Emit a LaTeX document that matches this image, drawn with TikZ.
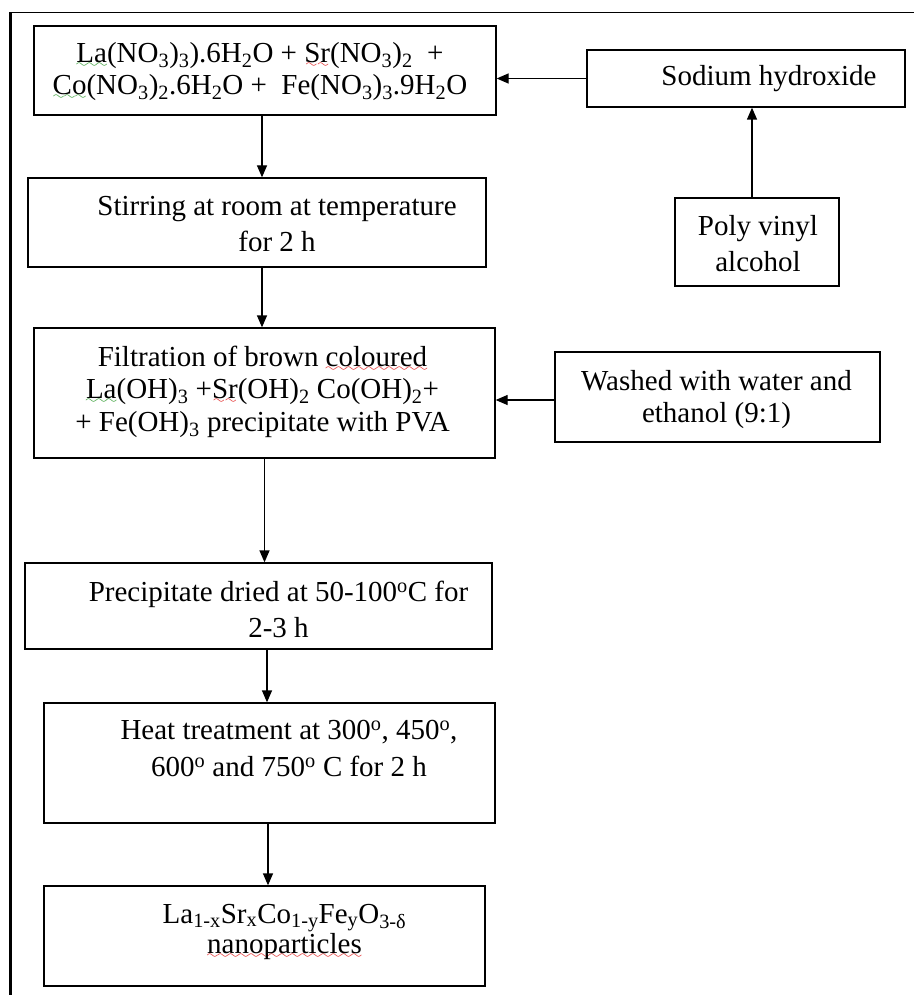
\documentclass[tikz,border=0pt]{standalone}
\usepackage{fontspec}
\setmainfont{Liberation Serif}
\usetikzlibrary{arrows.meta}
\definecolor{sqgreen}{HTML}{2E9A2E}
\definecolor{sqred}{HTML}{E02020}
\font\sqfont=lasy6 scaled 2000
% spell-check squiggles under a word
\newcommand\sqline[2]{\leavevmode\setbox0\hbox{#2}%
  \rlap{\textcolor{#1}{\lower5pt\hbox to \wd0{\xleaders\hbox{\sqfont\char58}\hfill}}}#2}
\newcommand\gsq[1]{\sqline{sqgreen}{#1}}
\newcommand\rsq[1]{\sqline{sqred}{#1}}

\begin{document}
\begin{tikzpicture}[x=1pt,y=-1pt,font=\fontsize{29}{35}\selectfont,
      box/.style={draw,line width=1.3pt,inner sep=0pt},
      txt/.style={align=center,inner sep=0pt},
      arr/.style={line width=1.3pt,-{Triangle[length=12pt,width=10pt]}}]
    \useasboundingbox (0,0) rectangle (914,995);
    % page frame
    \draw[line width=3pt] (10.5,995) -- (10.5,12.7);
    \draw[line width=1.4pt] (9,12.7) -- (914,12.7);
    % boxes
    \node[box,minimum width=462pt,minimum height=89pt](pre) at (265,70.5){};
    \node[box,minimum width=318pt,minimum height=57pt](soda) at (746,78.5){};
    \node[box,minimum width=458pt,minimum height=89pt](stir) at (257,222.5){};
    \node[box,minimum width=164pt,minimum height=88pt](pva) at (757,242){};
    \node[box,minimum width=461pt,minimum height=130pt](filt) at (264.5,393){};
    \node[box,minimum width=325pt,minimum height=90pt](wash) at (717.5,397){};
    \node[box,minimum width=467pt,minimum height=86pt](prec) at (258.5,606){};
    \node[box,minimum width=451pt,minimum height=120pt](heat) at (269.5,763){};
    \node[box,minimum width=441pt,minimum height=100pt](fin) at (264.5,936){};
    % texts
    \node[txt,font=\fontsize{29}{32}\selectfont](preT) at ([xshift=-5pt,yshift=-1pt]pre.center)
      {\gsq{La}(NO\textsubscript{3})\textsubscript{3}).6H\textsubscript{2}O + \rsq{Sr}(NO\textsubscript{3})\textsubscript{2}\ \ +\\
       \gsq{Co}(NO\textsubscript{3})\textsubscript{2}.6H\textsubscript{2}O +\ \ Fe(NO\textsubscript{3})\textsubscript{3}.9H\textsubscript{2}O};
    \node[txt](sodaT) at ([xshift=23pt]soda.center){Sodium hydroxide};
    \node[txt,font=\fontsize{29}{36}\selectfont](stirT) at ([xshift=20pt,yshift=-1.3pt]stir.center)
      {Stirring at room at temperature\\ for 2 h};
    \node[txt,font=\fontsize{29}{36}\selectfont](pvaT) at ([xshift=1pt,yshift=-1.5pt]pva.center)
      {Poly vinyl\\ alcohol};
    \node[txt,font=\fontsize{29}{32.7}\selectfont](filtT) at ([xshift=-2pt,yshift=1.4pt]filt.center)
      {Filtration of brown \rsq{coloured}\\
       \gsq{La}(OH)\textsubscript{3} +\rsq{Sr}(OH)\textsubscript{2} Co(OH)\textsubscript{2}+\\
       + Fe(OH)\textsubscript{3} precipitate with PVA};
    \node[txt,font=\fontsize{29}{32.3}\selectfont](washT) at ([xshift=-1pt,yshift=-2.5pt]wash.center)
      {Washed with water and\\ ethanol (9:1)};
    \node[txt,font=\fontsize{29}{36}\selectfont](precT) at ([xshift=20pt,yshift=-3pt]prec.center)
      {Precipitate dried at 50-100\textsuperscript{o}C for\\ 2-3 h};
    \node[txt,font=\fontsize{29}{37}\selectfont](heatT) at ([xshift=19.5pt,yshift=14.4pt]heat.center)
      {Heat treatment at 300\textsuperscript{o}, 450\textsuperscript{o},\\
       600\textsuperscript{o} and 750\textsuperscript{o} C for 2 h};
    \node[txt,font=\fontsize{29}{30}\selectfont](finT) at ([xshift=20pt,yshift=4.5pt]fin.center)
      {La\textsubscript{1-x}Sr\textsubscript{x}Co\textsubscript{1-y}Fe\textsubscript{y}O\textsubscript{3-δ}\\
       \rsq{nanoparticles}};
    % arrows
    \foreach \s/\t/\dx in {pre/stir/-3,stir/filt/5,filt/prec/0,prec/heat/8.5,heat/fin/-1.5}{
      \coordinate (c) at ([xshift=\dx pt]\s.south);
      \draw[arr] (c) -- (c |- \t.north);}
    \draw[arr] (soda.west) -- (soda.west -| pre.east);
    \coordinate (pvaTop) at ([xshift=-5pt]pva.north);
    \draw[arr] (pvaTop) -- (pvaTop |- soda.south);
    \coordinate (washL) at ([yshift=-3pt]wash.west);
    \draw[arr] (washL) -- (washL -| filt.east);
  \end{tikzpicture}
\end{document}
